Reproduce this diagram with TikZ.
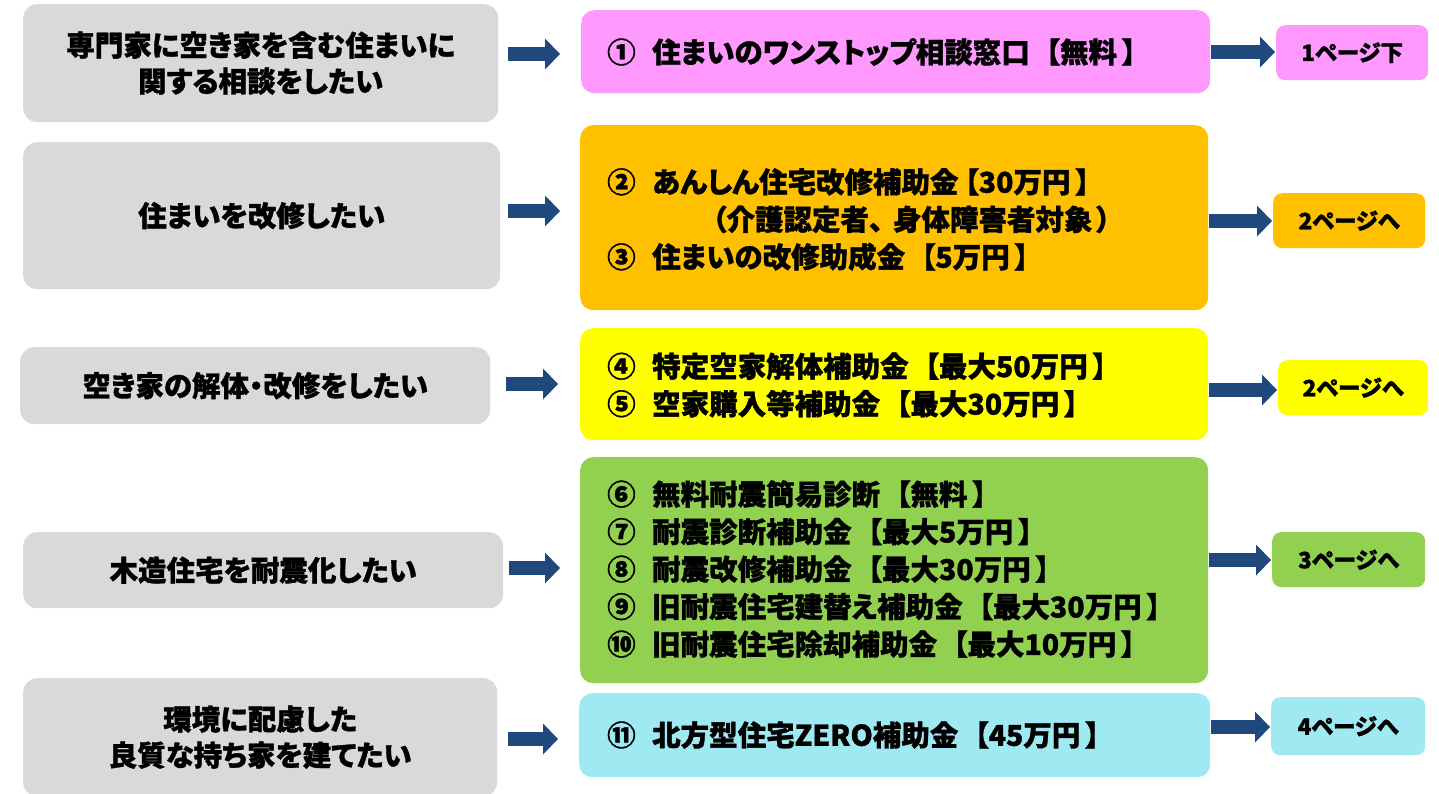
\documentclass[tikz,border=0pt]{standalone}
\usepackage{fontspec}
\setmainfont{Noto Sans CJK JP}[RawFeature=+palt, BoldFeatures={FakeBold=1.2}]
\usetikzlibrary{arrows.meta}
\definecolor{lgray}{HTML}{D9D9D9}
\definecolor{cpink}{HTML}{FF99FF}
\definecolor{corange}{HTML}{FFC000}
\definecolor{cyellow}{HTML}{FFFF00}
\definecolor{cgreen}{HTML}{92D050}
\definecolor{ccyan}{HTML}{9FE9F3}
\definecolor{arrowblue}{HTML}{1F497D}
\newcommand{\cn}[1]{\makebox[45pt][l]{#1}}
\newcommand{\lbk}{\hspace{16pt}【}
\newcommand{\rbk}{\hspace{5pt}】}
\begin{document}
\begin{tikzpicture}[x=1pt,y=-1pt,
  lbox/.style={fill=lgray, rounded corners=14pt, inner sep=0pt, anchor=north west, align=center,
    font=\bfseries\fontsize{28.5pt}{36pt}\selectfont},
  mbox/.style={fill=#1, rounded corners=13pt, inner sep=0pt, anchor=north west},
  rbox/.style={fill=#1, rounded corners=9pt, inner sep=0pt, anchor=north west,
    font=\bfseries\fontsize{22.5pt}{26pt}\selectfont},
  mtext/.style={anchor=west, align=left, inner sep=0pt,
    font=\bfseries\fontsize{28.5pt}{37.5pt}\selectfont},
  bigarrow/.style={draw=arrowblue, line width=14pt,
    -{Triangle[length=15pt,width=31pt,line width=0pt]}},
]
\useasboundingbox (0,0) rectangle (1439,793);

% left boxes
\node[lbox, minimum width=475pt, minimum height=118pt] (L1) at (23,4)
  {専門家に空き家を含む住まいに\\関する相談をしたい};
\node[lbox, minimum width=477pt, minimum height=147pt] (L2) at (23,142)
  {住まいを改修したい};
\node[lbox, minimum width=470pt, minimum height=77pt] (L3) at (20,347)
  {空き家の解体・改修をしたい};
\node[lbox, minimum width=480pt, minimum height=76pt] (L4) at (23,532)
  {木造住宅を耐震化したい};
\node[lbox, minimum width=474pt, minimum height=118pt] (L5) at (23,678)
  {環境に配慮した\\良質な持ち家を建てたい};

% middle boxes
\node[mbox=cpink, minimum width=629pt, minimum height=83pt] (M1) at (581,10) {};
\node[mbox=corange, minimum width=628pt, minimum height=185pt] (M2) at (580,125) {};
\node[mbox=cyellow, minimum width=628pt, minimum height=112pt] (M3) at (580,328) {};
\node[mbox=cgreen, minimum width=628pt, minimum height=226pt] (M4) at (580,457) {};
\node[mbox=ccyan, minimum width=631pt, minimum height=84pt] (M5) at (579,693) {};

\node[mtext] (T1) at (607,52) {\cn{①}住まいのワンストップ相談窓口\lbk 無料\rbk};
\node[mtext] (T2) at (607,219.5) {\cn{②}あんしん住宅改修補助金\hspace{6pt}【30万円\rbk\\
  \cn{}\hspace{60pt}（介護認定者\makebox[24pt][l]{、}身体障害者対象\hspace{4pt}）\\
  \cn{③}住まいの改修助成金\lbk 5万円\rbk};
\node[mtext] (T3) at (607,385) {\cn{④}特定空家解体補助金\lbk 最大50万円\rbk\\
  \cn{⑤}空家購入等補助金\lbk 最大30万円\rbk};
\node[mtext] (T4) at (607,569) {\cn{⑥}無料耐震簡易診断\lbk 無料\rbk\\
  \cn{⑦}耐震診断補助金\lbk 最大5万円\rbk\\
  \cn{⑧}耐震改修補助金\lbk 最大30万円\rbk\\
  \cn{⑨}旧耐震住宅建替え補助金\lbk 最大30万円\rbk\\
  \cn{⑩}旧耐震住宅除却補助金\lbk 最大10万円\rbk};
\node[mtext] (T5) at (607,735) {\cn{⑪}北方型住宅ZERO補助金\lbk 45万円\rbk};

% right boxes
\node[rbox=cpink, minimum width=152pt, minimum height=55pt] (R1) at (1276,25) {1ページ下};
\node[rbox=corange, minimum width=152pt, minimum height=55pt] (R2) at (1273,193) {2ページへ};
\node[rbox=cyellow, minimum width=150pt, minimum height=55pt] (R3) at (1278,360) {2ページへ};
\node[rbox=cgreen, minimum width=153pt, minimum height=55pt] (R4) at (1272,532) {3ページへ};
\node[rbox=ccyan, minimum width=154pt, minimum height=58pt] (R5) at (1271,697) {4ページへ};

% arrows left -> middle
\draw[bigarrow, shorten <=10pt, shorten >=21pt] (L1.east |- 0,54) -- (M1.west |- 0,54);
\draw[bigarrow, shorten <=8pt, shorten >=20pt] (L2.east |- 0,211) -- (M2.west |- 0,211);
\draw[bigarrow, shorten <=16pt, shorten >=22pt] (L3.east |- 0,384) -- (M3.west |- 0,384);
\draw[bigarrow, shorten <=6pt, shorten >=20pt] (L4.east |- 0,568) -- (M4.west |- 0,568);
\draw[bigarrow, shorten <=11pt, shorten >=21pt] (L5.east |- 0,739) -- (M5.west |- 0,739);

% arrows middle -> right
\draw[bigarrow, shorten <=1pt, shorten >=1pt] (M1.east |- 0,52) -- (R1.west |- 0,52);
\draw[bigarrow, shorten <=1pt, shorten >=1pt] (M2.east |- 0,221) -- (R2.west |- 0,221);
\draw[bigarrow, shorten <=1pt, shorten >=1pt] (M3.east |- 0,390) -- (R3.west |- 0,390);
\draw[bigarrow, shorten <=1pt, shorten >=1pt] (M4.east |- 0,560) -- (R4.west |- 0,560);
\draw[bigarrow, shorten <=1pt, shorten >=1pt] (M5.east |- 0,727) -- (R5.west |- 0,727);
\end{tikzpicture}
\end{document}
